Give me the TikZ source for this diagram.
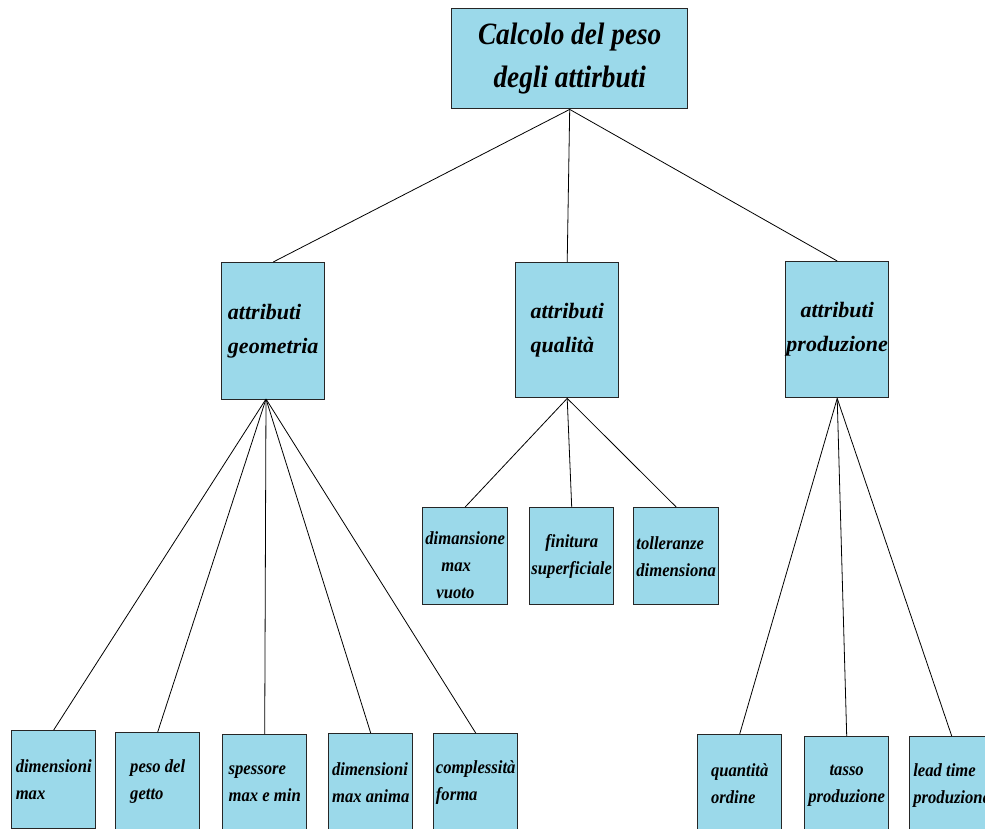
\documentclass[tikz,border=0pt]{standalone}
\usepackage{fontspec}
\setmainfont{Liberation Serif}
\newfontfamily\topfont[FakeStretch=0.88]{Liberation Serif}
\newfontfamily\lowfont[FakeStretch=0.9]{Liberation Serif}
\definecolor{boxblue}{RGB}{155,217,234}
\tikzset{
  box/.style={draw=black!85, line width=1.4pt, fill=boxblue, anchor=north west, inner sep=0pt},
  conn/.style={draw=black, line width=0.8pt},
  toptext/.style={font=\topfont\bfseries\itshape\fontsize{31}{43}\selectfont, align=center},
  midtext/.style={font=\bfseries\itshape\fontsize{22}{34}\selectfont},
  lowtext/.style={font=\lowfont\bfseries\itshape\fontsize{18.5}{27}\selectfont}
}
\begin{document}
\begin{tikzpicture}[x=1pt,y=-1pt]
\clip (0,0) rectangle (985,828);
\fill[white] (0,0) rectangle (985,828);
% level 1
\node[box, toptext, minimum width=236pt, minimum height=100pt] (top) at (451,8) {Calcolo del peso\\degli attirbuti};
% level 2
\node[box, midtext, align=left, minimum width=103pt, minimum height=137pt] (geo) at (221,262) {attributi\\geometria};
\node[box, midtext, align=left, minimum width=103pt, minimum height=135pt] (qual) at (515,262) {attributi\\qualità};
\node[box, midtext, align=center, minimum width=103pt, minimum height=136pt] (prod) at (785,261) {attributi\\produzione};
% level 3 (qualita)
\node[box, lowtext, align=left, minimum width=85pt, minimum height=97pt] (q1) at (422,507) {\rule{0pt}{30pt}dimansione\\\hspace*{16pt}max\\\hspace*{11pt}vuoto};
\node[box, lowtext, align=center, minimum width=84pt, minimum height=97pt] (q2) at (529,507) {finitura\\superficiale};
\node[box, lowtext, align=left, minimum width=85pt, minimum height=97pt] (q3) at (633,507) {tolleranze\\dimensiona};
% level 3 (geometria)
\node[box, lowtext, align=left, minimum width=84pt, minimum height=98pt] (g1) at (11,730) {dimensioni\\max};
\node[box, lowtext, align=left, minimum width=84pt, minimum height=98pt] (g2) at (115,732) {peso del\\getto};
\node[box, lowtext, align=left, minimum width=84pt, minimum height=98pt] (g3) at (222,734) {spessore\\max e min};
\node[box, lowtext, align=left, minimum width=84pt, minimum height=98pt] (g4) at (328,733) {dimensioni\\max anima};
\node[box, lowtext, align=left, minimum width=84pt, minimum height=98pt] (g5) at (433,733) {complessità\\forma};
% level 3 (produzione)
\node[box, lowtext, align=left, minimum width=84pt, minimum height=98pt] (p1) at (697,734) {quantità\\ordine};
\node[box, lowtext, align=center, minimum width=84pt, minimum height=98pt] (p2) at (804,736) {tasso\\produzione};
\node[box, lowtext, align=left, minimum width=84pt, minimum height=98pt] (p3) at (909,736) {lead time\\produzione};
% connectors
\coordinate (gs) at (266,399);
\draw[conn] (top.south) -- (geo.north);
\draw[conn] (top.south) -- (qual.north);
\draw[conn] (top.south) -- (prod.north);
\foreach \n in {g1,g2,g3,g4,g5} \draw[conn] (gs) -- (\n.north);
\foreach \n in {q1,q2,q3} \draw[conn] (qual.south) -- (\n.north);
\foreach \n in {p1,p2,p3} \draw[conn] (prod.south) -- (\n.north);
\end{tikzpicture}
\end{document}
